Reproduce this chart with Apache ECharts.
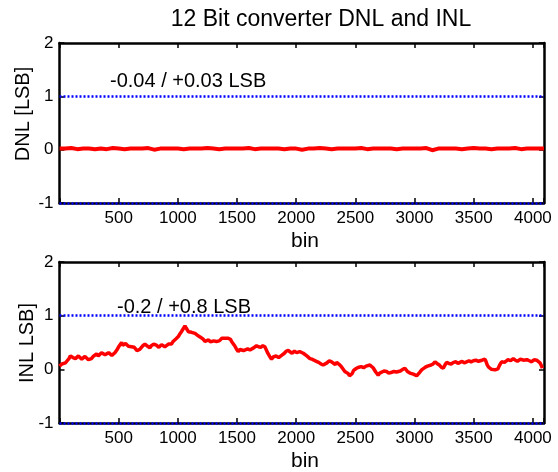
<!DOCTYPE html>
<html>
<head>
<meta charset="utf-8">
<script src="https://cdn.jsdelivr.net/npm/echarts@6/dist/echarts.min.js"></script>
<style>
html,body{margin:0;padding:0;background:#fff;}
#chart{width:558px;height:472px;}
</style>
</head>
<body>
<div id="chart"></div>
<script>
// ---- data ----
var titleText = "12 Bit converter DNL and INL";
var dnlLabel = "DNL [LSB]";
var inlLabel = "INL LSB]";
var xLabel = "bin";
var dnlNote = "-0.04 / +0.03 LSB";
var inlNote = "-0.2 / +0.8 LSB";
var limitLines = [1, -1];
var xTicks = [500, 1000, 1500, 2000, 2500, 3000, 3500, 4000];
var yTicks = [-1, 0, 1, 2];

var dnlBins = [1,50,100,150,200,250,300,350,400,450,500,550,600,650,700,750,800,850,900,950,
  1000,1050,1100,1150,1200,1250,1300,1350,1400,1450,1500,1550,1600,1650,1700,1750,1800,1850,1900,1950,
  2000,2050,2100,2150,2200,2250,2300,2350,2400,2450,2500,2550,2600,2650,2700,2750,2800,2850,2900,2950,
  3000,3050,3100,3150,3200,3250,3300,3350,3400,3450,3500,3550,3600,3650,3700,3750,3800,3850,3900,3950,
  4000,4050,4094];
var dnlValues = [0.02,0.02,0.03,0.01,0.02,0.02,0.01,0.02,0.01,0.03,0.02,0.01,0.02,0.02,0.02,0.03,0.00,0.02,0.02,0.02,
  0.02,0.01,0.02,0.02,0.02,0.03,0.02,0.01,0.02,0.02,0.02,0.02,0.03,0.01,0.02,0.02,0.02,0.02,0.01,0.02,
  0.02,0.00,0.02,0.02,0.03,0.02,0.01,0.02,0.02,0.02,0.02,0.03,0.01,0.02,0.02,0.02,0.02,0.01,0.02,0.02,
  0.02,0.02,0.03,-0.01,0.02,0.02,0.02,0.02,0.01,0.02,0.03,0.02,0.02,0.01,0.02,0.02,0.02,0.03,0.01,0.02,
  0.02,0.02,0.02];

var inlBins = [0,10,20,35,50,65,80,92,103,114,125,135,145,160,175,188,200,215,230,244,
  258,270,285,300,314,327,340,355,370,385,400,415,430,442,455,468,480,490,500,512,
  525,535,545,558,570,582,595,608,620,632,645,655,666,678,690,705,722,734,745,755,
  764,775,785,796,807,818,830,840,849,862,875,890,905,920,933,946,960,972,985,995,
  1004,1017,1030,1045,1060,1070,1080,1090,1102,1116,1130,1145,1159,1175,1190,1210,1229,1245,1260,1275,
  1290,1302,1313,1327,1340,1350,1360,1372,1384,1397,1410,1422,1435,1445,1454,1467,1480,1495,1510,1525,
  1540,1555,1570,1590,1609,1625,1640,1652,1665,1682,1700,1718,1735,1748,1760,1776,1792,1806,1820,1830,
  1840,1852,1863,1882,1900,1916,1933,1948,1965,1985,2004,2017,2030,2045,2060,2075,2090,2103,2116,2133,
  2150,2170,2190,2210,2228,2244,2260,2280,2299,2315,2330,2342,2355,2370,2385,2398,2411,2425,2440,2450,
  2462,2473,2485,2497,2510,2530,2550,2570,2590,2605,2623,2637,2650,2672,2693,2706,2720,2742,2764,2782,
  2800,2825,2848,2864,2880,2900,2919,2940,2961,2975,2990,3004,3018,3030,3045,3060,3074,3092,3110,3125,
  3140,3157,3173,3190,3210,3226,3243,3257,3271,3290,3310,3330,3350,3367,3384,3402,3420,3440,3460,3478,
  3497,3518,3540,3555,3570,3583,3595,3605,3615,3626,3637,3650,3665,3680,3694,3705,3715,3725,3736,3748,
  3760,3775,3790,3812,3834,3852,3870,3895,3919,3935,3950,3970,3990,4010,4032,4047,4060,4070,4080];
var inlValues = [0.06,0.04,0.10,0.09,0.12,0.16,0.20,0.25,0.27,0.22,0.24,0.20,0.21,0.25,0.23,0.19,0.20,0.24,0.22,0.18,
  0.16,0.20,0.24,0.26,0.29,0.25,0.27,0.31,0.30,0.27,0.28,0.31,0.30,0.26,0.27,0.31,0.34,0.38,0.42,0.46,
  0.50,0.45,0.44,0.48,0.47,0.43,0.45,0.42,0.40,0.41,0.38,0.35,0.33,0.37,0.40,0.44,0.47,0.44,0.43,0.40,
  0.40,0.44,0.45,0.47,0.49,0.45,0.44,0.41,0.42,0.46,0.45,0.42,0.44,0.47,0.49,0.47,0.52,0.54,0.57,0.59,
  0.61,0.66,0.70,0.73,0.81,0.77,0.74,0.70,0.68,0.69,0.66,0.67,0.65,0.62,0.60,0.57,0.52,0.54,0.55,0.51,
  0.50,0.53,0.50,0.52,0.54,0.53,0.56,0.58,0.61,0.58,0.57,0.58,0.55,0.56,0.52,0.49,0.44,0.38,0.33,0.37,
  0.38,0.35,0.35,0.38,0.36,0.39,0.40,0.38,0.44,0.42,0.41,0.44,0.42,0.36,0.30,0.24,0.19,0.23,0.22,0.25,
  0.25,0.22,0.24,0.27,0.30,0.34,0.35,0.32,0.30,0.34,0.31,0.29,0.33,0.31,0.30,0.27,0.25,0.23,0.20,0.19,
  0.17,0.15,0.13,0.10,0.08,0.11,0.12,0.16,0.14,0.12,0.09,0.13,0.11,0.08,0.04,0.01,-0.04,-0.05,-0.08,-0.12,
  -0.15,-0.08,-0.02,0.00,0.02,0.04,0.05,0.03,0.06,0.05,0.08,0.07,0.03,-0.05,-0.11,-0.07,-0.06,-0.03,-0.04,-0.07,
  -0.06,-0.04,-0.05,-0.06,-0.03,0.00,0.02,-0.04,-0.07,-0.06,-0.09,-0.11,-0.12,-0.09,-0.05,-0.01,0.02,0.04,0.06,0.05,
  0.08,0.10,0.14,0.11,0.08,0.04,0.02,0.08,0.13,0.11,0.10,0.13,0.14,0.11,0.13,0.15,0.12,0.14,0.16,0.14,
  0.16,0.17,0.15,0.16,0.17,0.15,0.19,0.14,0.08,0.04,0.02,0.00,-0.02,-0.01,-0.04,0.01,0.06,0.10,0.14,0.12,
  0.13,0.16,0.18,0.16,0.20,0.17,0.15,0.19,0.17,0.15,0.18,0.16,0.14,0.18,0.17,0.15,0.12,0.08,0.02];

// ---- chart ----
var X_MIN = 0, X_MAX = 4094;
var GRIDS = [{left:59.5, right:14, top:43, height:160}, {left:59.5, right:14, top:262, height:161}];
var FONT = "Liberation Sans, Arial, Helvetica, sans-serif";

function pairs(xs, ys){ return xs.map(function(x,i){ return [x, ys[i]]; }); }

function xAxes(gi){
  var base = {
    type:'value', gridIndex:gi, min:X_MIN, max:X_MAX, interval:500,
    splitLine:{show:false},
    axisLine:{show:true, onZero:false, lineStyle:{color:'#000', width:2.5}},
    axisTick:{show:true, inside:true, length:5, lineStyle:{color:'#000', width:1.5}}
  };
  var bottom = Object.assign({}, base, {
    position:'bottom',
    axisLabel:{show:true, margin:7, color:'#000', fontSize:17, fontFamily:FONT,
      formatter:function(v){ return xTicks.indexOf(v) >= 0 ? String(v) : ''; }}
  });
  var top = Object.assign({}, base, {position:'top', axisLabel:{show:false}});
  return [bottom, top];
}
function yAxes(gi){
  var base = {
    type:'value', gridIndex:gi, min:yTicks[0], max:yTicks[yTicks.length-1], interval:1,
    splitLine:{show:false},
    axisLine:{show:true, onZero:false, lineStyle:{color:'#000', width:2.5}},
    axisTick:{show:true, inside:true, length:5, lineStyle:{color:'#000', width:1.5}}
  };
  var left = Object.assign({}, base, {position:'left',
    axisLabel:{show:true, margin:6, color:'#000', fontSize:17, fontFamily:FONT}});
  var right = Object.assign({}, base, {position:'right', axisLabel:{show:false}});
  return [left, right];
}

var xa = xAxes(0).concat(xAxes(1));
var ya = yAxes(0).concat(yAxes(1));

function limitMarks(){
  return {
    silent:true, symbol:'none', animation:false,
    label:{show:false},
    lineStyle:{color:'#0000ff', width:2.5, type:[2,2], cap:'butt'},
    data: limitLines.map(function(v){ return {yAxis:v}; })
  };
}

function txt(x, y, text, size, align, rot){
  return {type:'text', x:x, y:y, rotation: rot || 0, z:10,
    style:{text:text, fontSize:size, fontFamily:FONT, fill:'#000',
      textAlign:align||'center', textVerticalAlign:'middle'}};
}

var option = {
  animation:false,
  backgroundColor:'#fff',
  grid: GRIDS,
  xAxis: xa,
  yAxis: ya,
  series: [
    {type:'line', xAxisIndex:0, yAxisIndex:0, data:pairs(dnlBins, dnlValues), showSymbol:false,
      lineStyle:{color:'#ff0000', width:4}, markLine:limitMarks(), z:3},
    {type:'line', xAxisIndex:2, yAxisIndex:2, data:pairs(inlBins, inlValues), showSymbol:false,
      lineStyle:{color:'#ff0000', width:3.5}, markLine:limitMarks(), z:3}
  ],
  graphic: [
    txt(321, 20, titleText, 23, 'center'),
    txt(110, 81, dnlNote, 20, 'left'),
    txt(117, 307, inlNote, 20, 'left'),
    txt(23, 114, dnlLabel, 20, 'center', Math.PI/2),
    txt(27, 343, inlLabel, 20, 'center', Math.PI/2),
    txt(305, 241, xLabel, 21, 'center'),
    txt(305, 461, xLabel, 21, 'center')
  ]
};

var chart = echarts.init(document.getElementById('chart'), null, {renderer:'canvas'});
chart.setOption(option);
</script>
</body>
</html>
